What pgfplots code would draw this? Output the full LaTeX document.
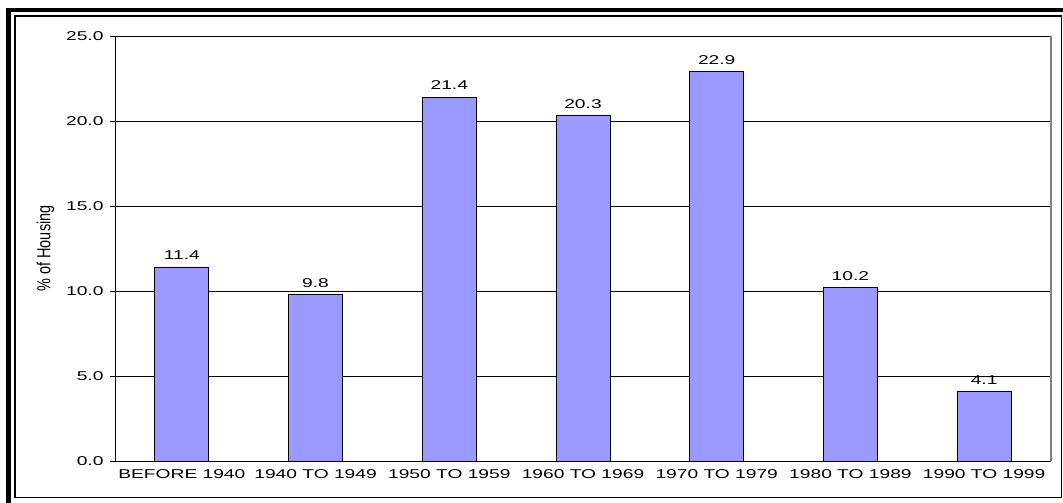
\documentclass[border=0pt]{standalone}
\usepackage{fontspec}
\setmainfont{Liberation Sans}[FakeStretch=1.5]
\newfontfamily\plainfont{Liberation Sans}
\usepackage{pgfplots}
\pgfplotsset{compat=1.18}
\definecolor{barblue}{HTML}{9999FF}
\definecolor{rightgray}{HTML}{808080}
\begin{document}
\begin{tikzpicture}
\useasboundingbox (0,0) rectangle (1063bp,503bp);
\fill[white] (0,0) rectangle (1063bp,503bp);
\draw[line width=5bp] (8.5bp,0bp) -- (8.5bp,495bp);
\draw[line width=4bp] (6bp,493bp) -- (1063bp,493bp);
\draw[line width=1.5bp] (15bp,5.5bp) rectangle (1061.5bp,487bp);
\begin{axis}[
  at={(115bp,42bp)}, anchor=south west,
  scale only axis, width=936bp, height=425bp,
  xmin=-0.5, xmax=6.5, ymin=0, ymax=25,
  axis x line*=bottom, axis y line*=left,
  axis line style={black, line width=0.9bp, -},
  ytick={0,5,...,25},
  ymajorgrids, grid style={black, line width=0.8bp},
  major tick length=5bp,
  tick align=outside,
  tick style={black, line width=0.8bp},
  /pgf/number format/assume math mode=true,
  yticklabel={\pgfmathprintnumber[fixed,fixed zerofill,precision=1]{\tick}},
  ticklabel style={font=\fontsize{12.8bp}{15bp}\selectfont},
  yticklabel style={xshift=-3bp},
  xtick={0,...,6},
  xticklabels={BEFORE 1940,1940 TO 1949,1950 TO 1959,1960 TO 1969,1970 TO 1979,1980 TO 1989,1990 TO 1999},
  x tick style={draw=none},
  extra x ticks={-0.5,0.5,...,6.5},
  extra x tick labels={},
  extra x tick style={tick style={black, line width=0.8bp}, major tick length=5bp, grid=none},
  ylabel={\scalebox{1}[1.3]{\plainfont\fontsize{14.5bp}{16bp}\selectfont \% of Housing}},
  ylabel style={at={(axis description cs:-0.0743,0.5)}, anchor=center},
  clip=false,
]
\addplot[ybar, bar width=54bp, fill=barblue, draw=black, line width=0.9bp,
  nodes near coords={\pgfmathprintnumber[fixed,fixed zerofill,precision=1]{\pgfplotspointmeta}},
  nodes near coords style={font=\fontsize{12.8bp}{15bp}\selectfont, black, yshift=3.5bp, /pgf/number format/assume math mode=true}]
  coordinates {(0,11.4) (1,9.8) (2,21.4) (3,20.3) (4,22.9) (5,10.2) (6,4.1)};
\draw[rightgray, line width=1.5bp] (rel axis cs:1,0) -- (rel axis cs:1,1);
\end{axis}
\end{tikzpicture}
\end{document}
